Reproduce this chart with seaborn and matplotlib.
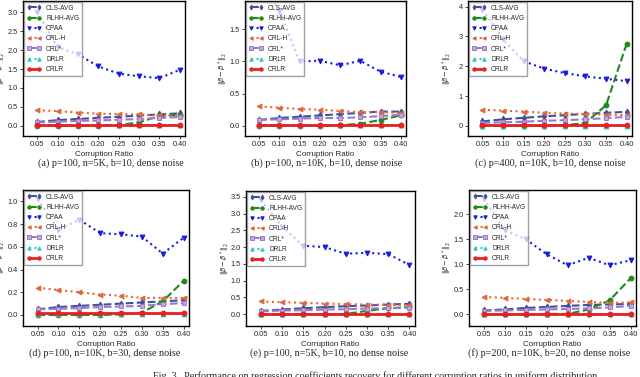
import matplotlib
matplotlib.use("Agg")
import matplotlib.pyplot as plt
import seaborn as sns

# corruption ratios on the x axis
ratios = [0.05, 0.10, 0.15, 0.20, 0.25, 0.30, 0.35, 0.40]
methods = ["OLS-AVG", "RLHH-AVG", "OPAA", "ORL-H", "ORL*", "DRLR", "ORLR"]

# values, one dict per panel
panel_a = {
    "OLS-AVG": [0.10, 0.15, 0.18, 0.21, 0.24, 0.27, 0.30, 0.33],
    "RLHH-AVG": [0.00, 0.00, 0.00, 0.00, 0.02, 0.09, 0.26, 0.29],
    "OPAA": [3.00, 2.08, 1.89, 1.57, 1.38, 1.31, 1.26, 1.48],
    "ORL-H": [0.41, 0.39, 0.35, 0.32, 0.31, 0.30, 0.28, 0.27],
    "ORL*": [0.09, 0.11, 0.13, 0.14, 0.16, 0.18, 0.21, 0.23],
    "DRLR": [0.01] * 8,
    "ORLR": [0.02] * 8,
}
panel_b = {
    "OLS-AVG": [0.09, 0.12, 0.14, 0.16, 0.18, 0.20, 0.22, 0.22],
    "RLHH-AVG": [0.00, 0.00, 0.00, 0.00, 0.01, 0.03, 0.09, 0.16],
    "OPAA": [2.30, 1.79, 1.00, 1.01, 0.94, 1.01, 0.84, 0.76],
    "ORL-H": [0.30, 0.28, 0.26, 0.25, 0.23, 0.21, 0.21, 0.20],
    "ORL*": [0.09, 0.10, 0.11, 0.12, 0.12, 0.13, 0.15, 0.17],
    "DRLR": [0.005] * 8,
    "ORLR": [0.01] * 8,
}
panel_c = {
    "OLS-AVG": [0.15, 0.22, 0.27, 0.32, 0.36, 0.40, 0.44, 0.47],
    "RLHH-AVG": [0.00, 0.00, 0.00, 0.00, 0.02, 0.10, 0.69, 2.75],
    "OPAA": [3.90, 2.90, 2.17, 1.92, 1.77, 1.66, 1.58, 1.50],
    "ORL-H": [0.54, 0.51, 0.48, 0.44, 0.41, 0.40, 0.38, 0.36],
    "ORL*": [0.10, 0.12, 0.14, 0.17, 0.19, 0.22, 0.26, 0.30],
    "DRLR": [0.01] * 8,
    "ORLR": [0.03] * 8,
}
panel_d = {
    "OLS-AVG": [0.05, 0.07, 0.08, 0.09, 0.10, 0.11, 0.12, 0.13],
    "RLHH-AVG": [0.00, 0.00, 0.00, 0.00, 0.005, 0.02, 0.12, 0.30],
    "OPAA": [1.02, 0.75, 0.84, 0.72, 0.71, 0.69, 0.54, 0.68],
    "ORL-H": [0.24, 0.22, 0.20, 0.18, 0.17, 0.15, 0.15, 0.15],
    "ORL*": [0.05, 0.055, 0.06, 0.07, 0.075, 0.08, 0.095, 0.105],
    "DRLR": [0.005] * 8,
    "ORLR": [0.015] * 8,
}
panel_e = {
    "OLS-AVG": [0.10, 0.14, 0.18, 0.21, 0.24, 0.26, 0.29, 0.31],
    "RLHH-AVG": [0.00, 0.00, 0.00, 0.00, 0.01, 0.10, 0.18, 0.21],
    "OPAA": [3.40, 2.61, 2.04, 2.00, 1.80, 1.83, 1.79, 1.47],
    "ORL-H": [0.38, 0.36, 0.34, 0.32, 0.30, 0.29, 0.28, 0.27],
    "ORL*": [0.09, 0.11, 0.12, 0.14, 0.15, 0.17, 0.18, 0.20],
    "DRLR": [0.00] * 8,
    "ORLR": [0.00] * 8,
}
panel_f = {
    "OLS-AVG": [0.08, 0.10, 0.13, 0.15, 0.17, 0.19, 0.20, 0.21],
    "RLHH-AVG": [0.00, 0.00, 0.00, 0.01, 0.01, 0.10, 0.28, 0.72],
    "OPAA": [2.31, 1.68, 1.50, 1.20, 0.98, 1.13, 0.98, 1.08],
    "ORL-H": [0.35, 0.33, 0.31, 0.29, 0.27, 0.25, 0.23, 0.24],
    "ORL*": [0.07, 0.08, 0.09, 0.10, 0.11, 0.12, 0.14, 0.17],
    "DRLR": [0.00] * 8,
    "ORLR": [0.00] * 8,
}

captions = [
    "(a) p=100, n=5K, b=10, dense noise",
    "(b) p=100, n=10K, b=10, dense noise",
    "(c) p=400, n=10K, b=10, dense noise",
    "(d) p=100, n=10K, b=30, dense noise",
    "(e) p=100, n=5K, b=10, no dense noise",
    "(f) p=200, n=10K, b=20, no dense noise",
]
fig_caption = ("Fig. 3.  Performance on regression coefficients recovery "
               "for different corruption ratios in uniform distribution")

colors = {"OLS-AVG": "#40509e", "RLHH-AVG": "#1e8a1e", "OPAA": "#1a1ae0",
          "ORL-H": "#e06a3a", "ORL*": "#9a78c8", "DRLR": "#30c8c8", "ORLR": "#e82020"}
markers = {"OLS-AVG": "d", "RLHH-AVG": "o", "OPAA": "v", "ORL-H": "<",
           "ORL*": "s", "DRLR": "^", "ORLR": "o"}
lstyles = {"OLS-AVG": "--", "RLHH-AVG": "--", "OPAA": ":", "ORL-H": ":",
           "ORL*": "--", "DRLR": ":", "ORLR": "-"}

sns.set_style("ticks")
plt.rcParams["font.family"] = ["Liberation Sans", "DejaVu Sans"]
plt.rcParams["mathtext.fontset"] = "dejavusans"

W, H = 640, 377
fig = plt.figure(figsize=(6.4, 3.77), dpi=100)

# pixel boxes: left, right, top, bottom
boxes = [(23, 185, 1, 136), (245, 406, 1, 136), (468, 632, 1, 136),
         (23, 189, 190, 326), (246, 415, 191, 326), (469, 636, 190, 326)]
panels = [panel_a, panel_b, panel_c, panel_d, panel_e, panel_f]
ylims = [(-0.27, 3.3), (-0.16, 1.94), (-0.34, 4.19),
         (-0.097, 1.10), (-0.35, 3.67), (-0.23, 2.48)]
ytick_sets = [[0, 0.5, 1.0, 1.5, 2.0, 2.5, 3.0], [0, 0.5, 1.0, 1.5],
              [0, 1, 2, 3, 4], [0, 0.2, 0.4, 0.6, 0.8, 1.0],
              [0, 0.5, 1.0, 1.5, 2.0, 2.5, 3.0, 3.5], [0, 0.5, 1.0, 1.5, 2.0]]
cap_pos = [(111, 163), (327, 163), (550, 163), (105, 353), (329, 353), (549, 353)]

for box, data, ylim, yt, cap, cp in zip(boxes, panels, ylims, ytick_sets, captions, cap_pos):
    l, r, t, b = box
    ax = fig.add_axes([l / W, 1 - b / H, (r - l) / W, (b - t) / H])
    for m in methods:
        mfc = "#c0a8e0" if m == "ORL*" else colors[m]
        sns.lineplot(x=ratios, y=data[m], ax=ax, color=colors[m], marker=markers[m],
                     linestyle=lstyles[m], linewidth=2.0 if m == "ORLR" else 1.5,
                     markersize=3.5, markeredgecolor=colors[m], markerfacecolor=mfc,
                     markeredgewidth=0.7, label=m)
    ax.set_xlim(0.015, 0.413)
    ax.set_ylim(*ylim)
    ax.set_xticks(ratios)
    ax.set_xticklabels(["%.2f" % v for v in ratios])
    ax.set_yticks(yt)
    if isinstance(yt[1], int):
        ax.set_yticklabels([str(v) for v in yt])
    else:
        ax.set_yticklabels(["%.1f" % v for v in yt])
    ax.tick_params(labelsize=5.3, length=2.5, width=0.6, pad=1.2)
    for s in ax.spines.values():
        s.set_linewidth(1.0)
        s.set_color("black")
    ax.set_xlabel("Corruption Ratio", fontsize=5.8, labelpad=2)
    ax.set_ylabel(r"$\|\beta-\beta^*\|_2$", fontsize=4.8)
    ax.yaxis.set_label_coords(-14.5 / (r - l), 0.5)
    ax.legend(loc="upper left", fontsize=4.7, numpoints=2, handlelength=2.2,
              markerscale=0.7, labelspacing=0.5, borderpad=0.4, framealpha=0.75,
              edgecolor="gray", fancybox=False, borderaxespad=0.15)
    fig.text(cp[0] / W, 1 - cp[1] / H, cap, ha="center", va="center",
             family="Liberation Serif", fontsize=7.3)

fig.text(375 / W, 1 - 371 / H, fig_caption, ha="center", va="top",
         family="Liberation Serif", fontsize=7.3)

fig.savefig("out.png", dpi=100, facecolor="white")
